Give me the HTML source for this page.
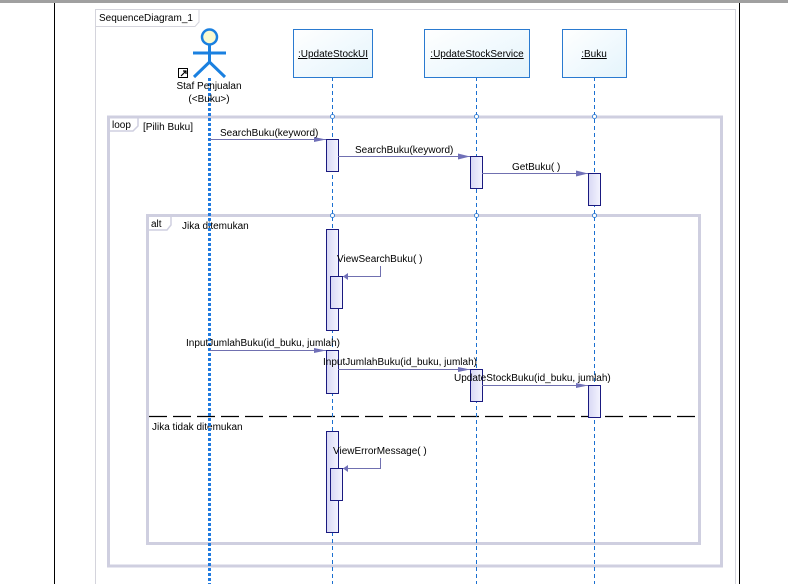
<!DOCTYPE html>
<html><head><meta charset="utf-8"><style>
html,body{margin:0;padding:0;background:#fff;}
svg{display:block;font-family:"Liberation Sans",sans-serif;font-size:10px;}
</style></head><body>
<svg width="788" height="584" viewBox="0 0 788 584" xmlns="http://www.w3.org/2000/svg">
<defs>
<linearGradient id="bx" x1="0" y1="0" x2="1" y2="1"><stop offset="0" stop-color="#ffffff"/><stop offset="1" stop-color="#e4f4fc"/></linearGradient>
<linearGradient id="ac" x1="0" y1="0" x2="1" y2="0"><stop offset="0" stop-color="#d8d8f4"/><stop offset="1" stop-color="#f4f4ff"/></linearGradient>
</defs>
<rect x="0" y="0" width="788" height="3" fill="#a0a0a0"/>
<line x1="54.5" y1="3" x2="54.5" y2="584" stroke="#000" stroke-width="1"/>
<line x1="739.5" y1="3" x2="739.5" y2="584" stroke="#000" stroke-width="1"/>
<!-- diagram frame -->
<path d="M95.5 584 V9.5 H735.5 V584" fill="none" stroke="#d4d4dc"/>
<path d="M95.5 26.5 H195 L199 22 V9.5" fill="none" stroke="#d4d4dc"/>
<text x="99" y="21" fill="#000">SequenceDiagram_1</text>
<!-- loop frame -->
<rect x="108.5" y="117" width="613" height="449" fill="none" stroke="#cfcfe0" stroke-width="3"/>
<path d="M108 131 H133 L138 126 V117" fill="none" stroke="#cfcfe0" stroke-width="1.5"/>
<text x="112" y="128" fill="#000">loop</text>
<text x="143" y="130" fill="#000">[Pilih Buku]</text>
<!-- alt frame -->
<rect x="147.5" y="215.5" width="552" height="328" fill="none" stroke="#cfcfe0" stroke-width="3"/>
<path d="M147 230 H167 L171 225 V215" fill="none" stroke="#cfcfe0" stroke-width="1.5"/>
<text x="151" y="227" fill="#000">alt</text>
<text x="182" y="229" fill="#000">Jika ditemukan</text>
<line x1="149" y1="416.5" x2="698" y2="416.5" stroke="#000" stroke-width="1.3" stroke-dasharray="18,6"/>
<text x="152" y="430" fill="#000">Jika tidak ditemukan</text>
<!-- lifelines -->
<line x1="332.5" y1="77" x2="332.5" y2="584" stroke="#1a6fd0" stroke-dasharray="4,3"/>
<line x1="476.5" y1="77" x2="476.5" y2="584" stroke="#1a6fd0" stroke-dasharray="4,3"/>
<line x1="594.5" y1="77" x2="594.5" y2="584" stroke="#1a6fd0" stroke-dasharray="4,3"/>
<line x1="209.5" y1="78" x2="209.5" y2="584" stroke="#1f7ae0" stroke-width="3" stroke-dasharray="3,2"/>
<g fill="#fff" stroke="#1a6fd0" stroke-width="0.8">
<circle cx="332.5" cy="116.5" r="2"/><circle cx="476.5" cy="116.5" r="2"/><circle cx="594.5" cy="116.5" r="2"/>
<circle cx="332.5" cy="215.5" r="2"/><circle cx="476.5" cy="215.5" r="2"/><circle cx="594.5" cy="215.5" r="2"/>
</g>
<!-- actor -->
<circle cx="209.5" cy="37" r="7.5" fill="#fafad0" stroke="#1a80e0" stroke-width="2.5"/>
<g stroke="#1a80e0" stroke-width="3" fill="none">
<line x1="209.5" y1="44" x2="209.5" y2="62"/>
<line x1="193" y1="53" x2="226" y2="53"/>
<polyline points="194,77 209.5,62 225,77"/>
</g>
<rect x="178.5" y="68.5" width="9" height="9" fill="#fff" stroke="#000"/>
<path d="M181 76 L186 71 M183 71 H186 V74" stroke="#000" stroke-width="1.2" fill="none"/>
<text x="209" y="89" text-anchor="middle" fill="#000">Staf Penjualan</text>
<text x="209" y="102" text-anchor="middle" fill="#000">(&lt;Buku&gt;)</text>
<!-- object boxes -->
<rect x="293.5" y="29.5" width="79" height="48" fill="url(#bx)" stroke="#2a7ad0"/>
<text x="333" y="57" text-anchor="middle" text-decoration="underline" fill="#000">:UpdateStockUI</text>
<rect x="424.5" y="29.5" width="105" height="48" fill="url(#bx)" stroke="#2a7ad0"/>
<text x="477" y="57" text-anchor="middle" text-decoration="underline" fill="#000">:UpdateStockService</text>
<rect x="562.5" y="29.5" width="64" height="48" fill="url(#bx)" stroke="#2a7ad0"/>
<text x="594" y="57" text-anchor="middle" text-decoration="underline" fill="#000">:Buku</text>
<!-- activations -->
<g fill="url(#ac)" stroke="#1a1a80">
<rect x="326.5" y="139.5" width="12" height="32"/>
<rect x="470.5" y="156.5" width="12" height="32"/>
<rect x="588.5" y="173.5" width="12" height="32"/>
<rect x="326.5" y="229.5" width="12" height="101"/>
<rect x="330.5" y="276.5" width="12" height="32"/>
<rect x="326.5" y="350.5" width="12" height="43"/>
<rect x="470.5" y="369.5" width="12" height="32"/>
<rect x="588.5" y="385.5" width="12" height="32"/>
<rect x="326.5" y="431.5" width="12" height="101"/>
<rect x="330.5" y="468.5" width="12" height="32"/>
</g>
<!-- messages -->
<g stroke="#7070b0" stroke-width="1" fill="none">
<line x1="210" y1="139.5" x2="326" y2="139.5"/>
<line x1="338" y1="156.5" x2="470" y2="156.5"/>
<line x1="482" y1="173.5" x2="588" y2="173.5"/>
<polyline points="380.5,266 380.5,276.5 343,276.5"/>
<line x1="210" y1="350.5" x2="326" y2="350.5"/>
<line x1="338" y1="369.5" x2="470" y2="369.5"/>
<line x1="482" y1="385.5" x2="588" y2="385.5"/>
<polyline points="380.5,458 380.5,468.5 343,468.5"/>
</g>
<g fill="#7070b8">
<polygon points="326,139.5 314,137 314,142"/>
<polygon points="470,156.5 458,153.5 458,159.5"/>
<polygon points="588,173.5 576,170.5 576,176.5"/>
<polygon points="343,276.5 348,273 348,280"/>
<polygon points="326,350.5 314,348 314,353"/>
<polygon points="470,369.5 458,367 458,372"/>
<polygon points="588,385.5 576,383 576,388"/>
<polygon points="343,468.5 348,465 348,472"/>
</g>
<g fill="#000">
<text x="220" y="136">SearchBuku(keyword)</text>
<text x="355" y="153">SearchBuku(keyword)</text>
<text x="512" y="170">GetBuku( )</text>
<text x="337" y="262">ViewSearchBuku( )</text>
<text x="186" y="346">InputJumlahBuku(id_buku, jumlah)</text>
<text x="323" y="365">InputJumlahBuku(id_buku, jumlah)</text>
<text x="454" y="381">UpdateStockBuku(id_buku, jumlah)</text>
<text x="333" y="454">ViewErrorMessage( )</text>
</g>
</svg>
</body></html>
